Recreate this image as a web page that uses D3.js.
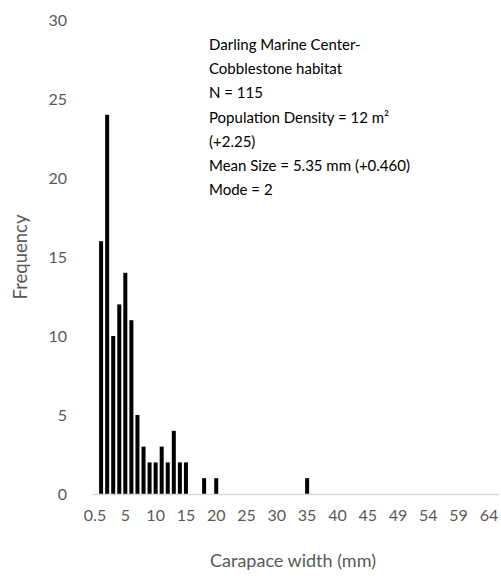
<!DOCTYPE html>
<html>
<head>
<meta charset="utf-8">
<script src="https://cdn.jsdelivr.net/npm/d3@7"></script>
<style>
  html, body { margin: 0; padding: 0; background: #fff; }
  svg { display: block; }
  text { font-family: Lato, "Open Sans", sans-serif; }
</style>
</head>
<body>
<svg id="chart" width="501" height="579"></svg>
<script>
// ---- data ----
const categories = ["0.5","1","2","3","4","5","6","7","8","9","10","11","12","13","14","15","16","17","18","19","20",
  "21","22","23","24","25","26","27","28","29","30","31","32","33","34","35","36","37","38","39","40",
  "41","42","43","44","45","46","47","48","48.5","49","50","51","52","53","54","55","56","57","58","59",
  "60","61","62","63","64","65"];
const frequency = [0,16,24,10,12,14,11,5,3,2,2,3,2,4,2,2,0,0,1,0,1,
  0,0,0,0,0,0,0,0,0,0,0,0,0,0,1,0,0,0,0,0,
  0,0,0,0,0,0,0,0,0,0,0,0,0,0,0,0,0,0,0,0,
  0,0,0,0,0,0];
const xTickLabels = ["0.5","5","10","15","20","25","30","35","40","45","49","54","59","64"];
const yTicks = [0,5,10,15,20,25,30];
const annotation = [
  "Darling Marine Center-",
  "Cobblestone habitat",
  "N = 115",
  "Population Density = 12 m²",
  "(+2.25)",
  "Mean Size = 5.35 mm (+0.460)",
  "Mode = 2"
];
const xTitle = "Carapace width (mm)";
const yTitle = "Frequency";

// ---- layout ----
const svg = d3.select("#chart");
const mLeft = 92, mRight = 498, mTop = 20, mBottom = 494;
const textColor = "#595959";

const x = d3.scaleBand().domain(categories).range([mLeft, mRight])
  .paddingInner(0.34).paddingOuter(0.17);
const y = d3.scaleLinear().domain([0, 30]).range([mBottom, mTop]);

// bars
svg.append("g").selectAll("rect")
  .data(categories.map((c, i) => ({c, v: frequency[i]})).filter(d => d.v > 0))
  .join("rect")
  .attr("x", d => x(d.c))
  .attr("width", x.bandwidth())
  .attr("y", d => y(d.v))
  .attr("height", d => y(0) - y(d.v))
  .attr("fill", "#000");

// x axis
const xAxis = d3.axisBottom(x)
  .tickValues(xTickLabels)
  .tickSize(0).tickPadding(16);
const gx = svg.append("g").attr("transform", `translate(0,${mBottom})`).call(xAxis);
gx.select(".domain").attr("stroke", "#d9d9d9").attr("stroke-width", 1.5);
gx.selectAll("text").attr("fill", textColor).attr("font-size", 16).attr("font-family", "Lato, sans-serif");

// y axis
const yAxis = d3.axisLeft(y).tickValues(yTicks).tickSize(0).tickPadding(25);
const gy = svg.append("g").attr("transform", `translate(${mLeft},0)`).call(yAxis);
gy.select(".domain").remove();
gy.selectAll("text").attr("fill", textColor).attr("font-size", 16).attr("font-family", "Lato, sans-serif");

// axis titles
svg.append("text")
  .attr("x", (mLeft + mRight) / 2 - 2).attr("y", 567)
  .attr("text-anchor", "middle")
  .attr("fill", textColor).attr("font-size", 18)
  .text(xTitle);
svg.append("text")
  .attr("transform", `translate(27,${(mTop + mBottom) / 2}) rotate(-90)`)
  .attr("text-anchor", "middle")
  .attr("fill", textColor).attr("font-size", 18.5)
  .text(yTitle);

// annotation
const ann = svg.append("text").attr("x", 209).attr("y", 50)
  .attr("fill", "#000").attr("font-size", 15);
ann.selectAll("tspan").data(annotation).join("tspan")
  .attr("x", 209).attr("dy", (d, i) => i === 0 ? 0 : 24.2)
  .text(d => d);
</script>
</body>
</html>
